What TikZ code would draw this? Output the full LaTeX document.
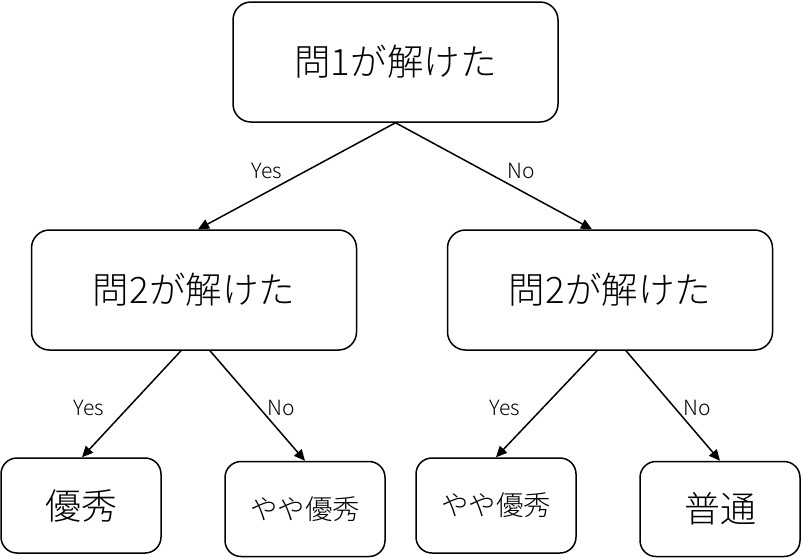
\documentclass[tikz,border=0pt]{standalone}
\usepackage{fontspec}
\setmainfont{Noto Sans CJK JP}[UprightFont={* Light}]
\usetikzlibrary{arrows.meta,calc}
\begin{document}
\begin{tikzpicture}[x=1pt,y=-1pt,
  box/.style={draw, line width=1.5pt, rounded corners=18pt, minimum width=#1, minimum height=120pt, inner sep=0pt, font=\fontsize{36.5}{40}\selectfont},
  leaf/.style={draw, line width=1.5pt, rounded corners=16pt, minimum width=160pt, minimum height=95pt, inner sep=0pt},
  big/.style={font=\fontsize{36}{40}\selectfont},
  small/.style={font=\fontsize{27.5}{32}\selectfont},
  lbl/.style={font=\fontsize{21}{24}\selectfont, inner sep=0pt},
  conn/.style={line width=1.5pt, -{Triangle[length=11pt,width=10pt]}}]
\useasboundingbox (0,0) rectangle (802,558);
\node[box=325pt] (top) at (395.5,62) {問1が解けた};
\node[box=325pt] (ml) at (194,290) {問2が解けた};
\node[box=325pt] (mr) at (610,290) {問2が解けた};
\node[leaf,big] (b1) at (81,505.5) {優秀};
\node[leaf,small] (b2) at (305,509) {やや優秀};
\node[leaf,small] (b3) at (496,505.5) {やや優秀};
\node[leaf,big] (b4) at (720,509) {普通};
\draw[conn] (top.south) -- ([xshift=4pt]ml.north);
\draw[conn] (top.south) -- ([xshift=-18pt]mr.north);
\draw[conn] ([xshift=-13pt]ml.south) -- ([xshift=1pt]b1.north);
\draw[conn] ([xshift=16pt]ml.south) -- (b2.north);
\draw[conn] ([xshift=-13pt]mr.south) -- (b3.north);
\draw[conn] ([xshift=16pt]mr.south) -- (b4.north);
\node[lbl] (l1) at (267,171) {Yes};
\node[lbl] (l2) at (521,171) {No};
\node[lbl] (l3) at (89,408) {Yes};
\node[lbl] (l4) at (281,408) {No};
\node[lbl] (l5) at (505,408) {Yes};
\node[lbl] (l6) at (697,408) {No};
\end{tikzpicture}
\end{document}
